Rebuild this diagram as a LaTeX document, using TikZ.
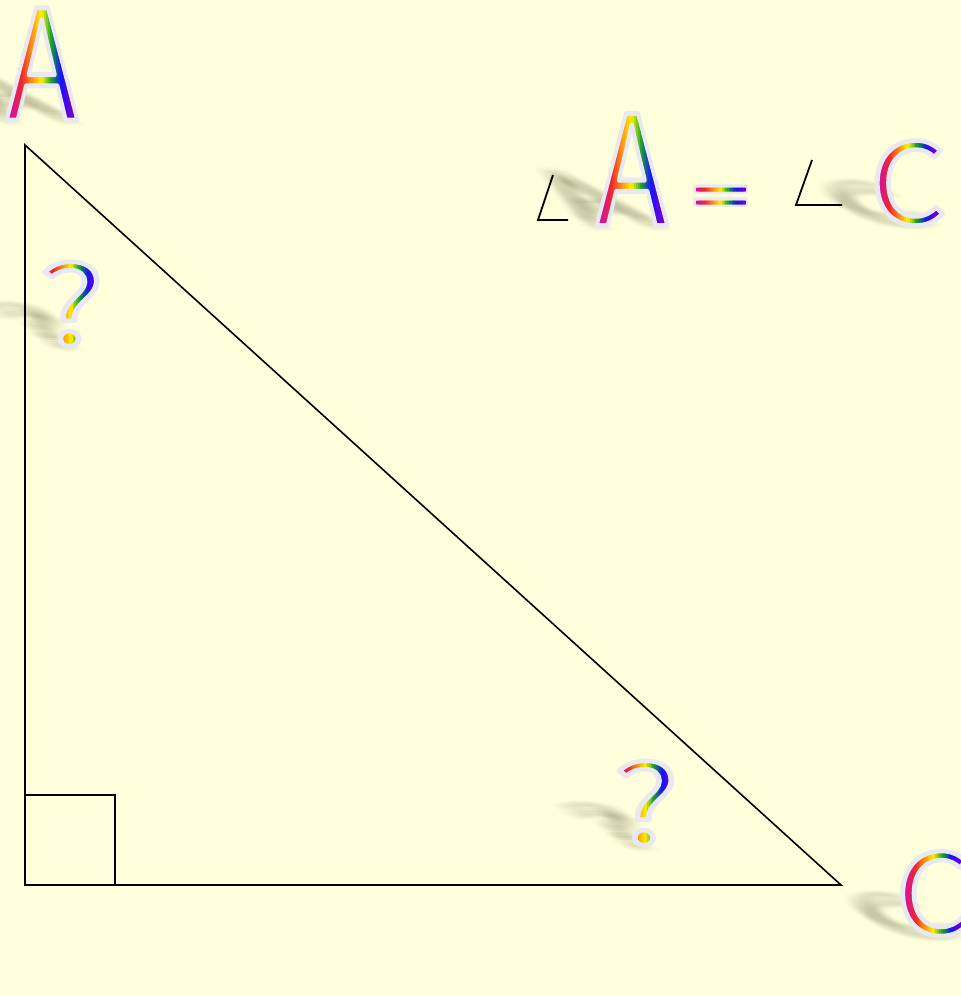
\documentclass[tikz,border=0pt]{standalone}
\usepackage{fontspec}
\usepackage{graphicx}
\newfontfamily\gf{Noto Sans CJK JP}
\definecolor{bg}{RGB}{255,255,220}
\definecolor{glow}{RGB}{232,232,240}
\definecolor{rb0}{RGB}{215,20,150}
\definecolor{rb1}{RGB}{240,40,40}
\definecolor{rb2}{RGB}{250,140,20}
\definecolor{rb3}{RGB}{255,240,0}
\definecolor{rb4}{RGB}{20,160,40}
\definecolor{rb5}{RGB}{20,20,250}
\definecolor{rb6}{RGB}{110,0,210}
\newcommand\gA{{\gf\fontsize{153}{153}\selectfont\scalebox{0.77}[1]{A}}}
\newcommand\gC{{\gf\fontsize{112}{112}\selectfont\scalebox{1.07}[1]{C}}}
\newcommand\gQ{{\gf\fontsize{109}{109}\selectfont\scalebox{1.26}[1]{?}}}
\newcommand\gE{{\gf\fontsize{54}{54}\selectfont\scalebox{1.93}[1]{=}}}
% outline-only text (stroke), used for the light rim that also thins the letters
\newcommand\rim[2]{\special{pdf:literal direct 1 Tr #1 w 1 j}#2\special{pdf:literal direct 0 Tr}}
\tikzset{glyph/.style={inner sep=0pt, outer sep=0pt}}
% #1 x, #2 baseline y, #3 glyph : soft cast shadow
\newcommand\shadglyph[3]{%
  \begin{scope}[shift={(#1,#2)}, cm={1,0,-0.6,0.45,(-8,0)}]
    \foreach \dx in {-9,-6,-3,0,3,6,9}
      \foreach \dy in {-15,-10,-5,0,5,10,15}
        {\node[glyph, transform shape, anchor=base, text=black, opacity=0.008] at (\dx,\dy) {#3};}
  \end{scope}}
% offset glow (used for the equals sign)
\newcommand\glowglyph[3]{%
  \foreach \a in {0,30,...,330}
    {\node[glyph, text=glow, shift={(\a:2.8)}] at (#1,#2) {#3};}}
% #1 x, #2 y, #3 glyph, #4 half width : horizontal rainbow by strips
\newcommand\rbglyph[4]{%
  \foreach \i in {0,...,29}{%
    \pgfmathsetmacro\rbt{\i/29*6}%
    \pgfmathtruncatemacro\rbk{min(floor(\rbt),5)}%
    \pgfmathtruncatemacro\rbkk{\rbk+1}%
    \pgfmathsetmacro\rbf{(\rbt-\rbk)*100}%
    \colorlet{rbcur}{rb\rbkk!\rbf!rb\rbk}%
    \pgfmathsetmacro\rbxa{#1-#4+\i*2*#4/30-(\i==0)*60}%
    \pgfmathsetmacro\rbxb{#1-#4+(\i+1)*2*#4/30+0.8+(\i==29)*60}%
    \begin{scope}
      \clip (\rbxa,#2-80) rectangle (\rbxb,#2+80);
      \node[glyph, text=rbcur] at (#1,#2) {#3};
    \end{scope}}}
% #1 x, #2 y, #3 glyph, #4 rim width
\newcommand\rimglyph[4]{\node[glyph, text=glow] at (#1,#2) {\rim{#4}{#3}};}
\begin{document}
\begin{tikzpicture}[x=1pt,y=1pt]
\fill[bg] (0,0) rectangle (961,-996);
\useasboundingbox (0,0) rectangle (961,-996);
% triangle
\coordinate (A) at (25,-145);
\coordinate (B) at (25,-885);
\coordinate (C) at (841,-885);
\coordinate (R1) at (25,-795);
\coordinate (R2) at (115,-885);
\draw[line width=1.6pt, line join=miter] (A) -- (B) -- (C) -- cycle;
\draw[line width=1.6pt] (R1) -| (R2);
% angle marks
\coordinate (a1t) at (553,-175); \coordinate (a1c) at (538,-220); \coordinate (a1r) at (568,-220);
\coordinate (a2t) at (812,-160); \coordinate (a2c) at (796,-205); \coordinate (a2r) at (842,-205);
\draw[line width=1.8pt] (a1t) -- (a1c) -- (a1r);
\draw[line width=1.8pt] (a2t) -- (a2c) -- (a2r);
% shadows
\shadglyph{42}{-119}{\gA}
\shadglyph{632}{-225}{\gA}
\shadglyph{908}{-223}{\gC}
\shadglyph{934}{-935}{\gC}
\shadglyph{71}{-345}{\gQ}
\shadglyph{646}{-845}{\gQ}
% glow of the equals sign
\glowglyph{721}{-202}{\gE}
% rainbow letters
\rbglyph{42}{-64}{\gA}{31}
\rbglyph{632}{-169.5}{\gA}{31}
\rbglyph{721}{-202}{\gE}{24}
\rbglyph{908.5}{-183}{\gC}{28}
\rbglyph{934}{-893.5}{\gC}{28}
\rbglyph{71.5}{-304}{\gQ}{26}
\rbglyph{646}{-803}{\gQ}{26}
% light rims
\rimglyph{42}{-64}{\gA}{5}
\rimglyph{632}{-169.5}{\gA}{5}
\rimglyph{908.5}{-183}{\gC}{4.5}
\rimglyph{934}{-893.5}{\gC}{4.5}
\rimglyph{71.5}{-304}{\gQ}{4.5}
\rimglyph{646}{-803}{\gQ}{4.5}
\end{tikzpicture}
\end{document}
